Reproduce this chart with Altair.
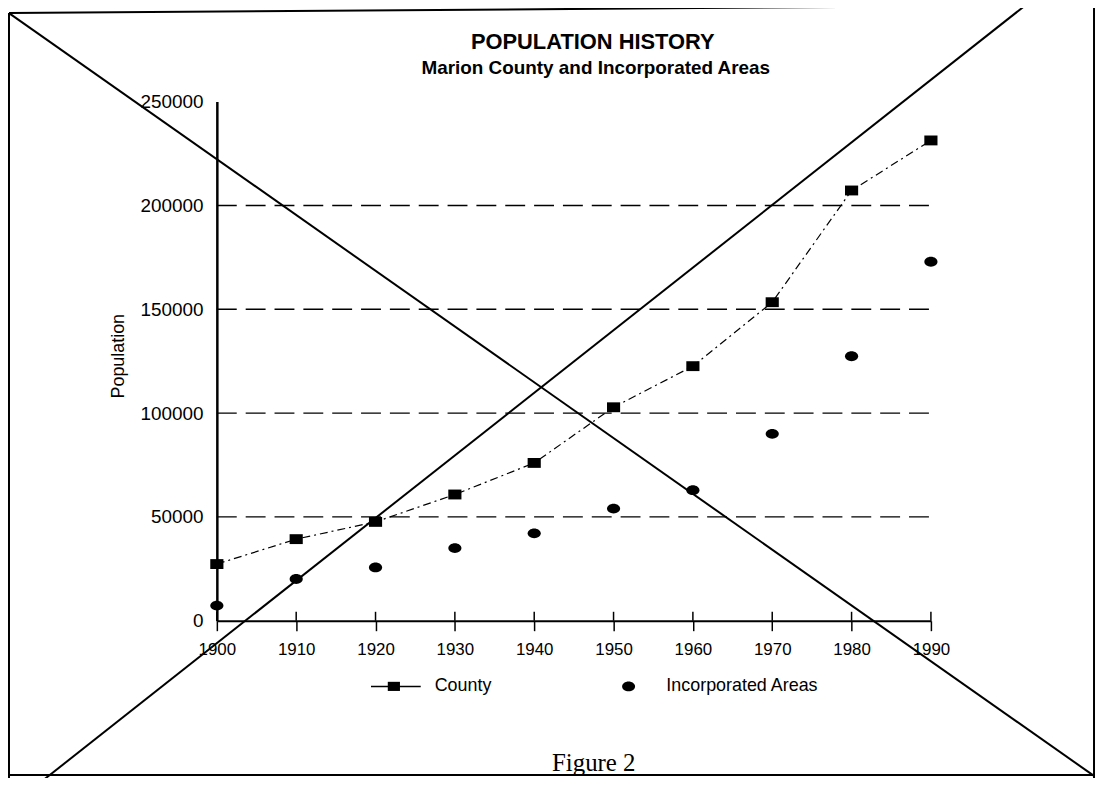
import altair as alt
import pandas as pd

# ---- data ----
years = [1900, 1910, 1920, 1930, 1940, 1950, 1960, 1970, 1980, 1990]
county = [27300, 39300, 47600, 60800, 76000, 102800, 122600, 153400, 207200, 231300]
incorporated = [7300, 20100, 25700, 35000, 42100, 54000, 62900, 90000, 127400, 172900]
series_names = ["County", "Incorporated Areas"]
y_ticks = [0, 50000, 100000, 150000, 200000, 250000]
grid_values = [50000, 100000, 150000, 200000]

W, H = 718, 522
SANS = "Liberation Sans"
SERIF = "Liberation Serif"

SQUARE = "M-1,-0.75H1V0.75H-1Z"
ELLIPSE = "M-1,0A1,0.75 0 1 1 1,0A1,0.75 0 1 1 -1,0Z"

df = pd.DataFrame({
    "year": years * 2,
    "series": [series_names[0]] * len(years) + [series_names[1]] * len(years),
    "population": county + incorporated,
})
grid_df = pd.DataFrame({"population": grid_values})
tick_df = pd.DataFrame({"year": years})

x_enc = alt.X(
    "year:Q",
    scale=alt.Scale(domain=[1900, 1990], nice=False, zero=False),
    axis=alt.Axis(
        values=years, format="d", title=None, grid=False, labelFlush=False,
        domainColor="black", domainWidth=2, tickColor="black", tickWidth=1.5,
        tickSize=10, labelFont=SANS, labelFontSize=17, labelColor="black",
        labelPadding=11,
    ),
)
y_enc = alt.Y(
    "population:Q",
    scale=alt.Scale(domain=[0, 250000], nice=False),
    axis=alt.Axis(
        values=y_ticks, format="d", title=None, grid=False, ticks=False,
        tickSize=0, domainColor="black", domainWidth=2.5, labelFont=SANS,
        labelFontSize=19, labelColor="black", labelPadding=14,
    ),
)

base = alt.Chart(df)

grid = alt.Chart(grid_df).mark_rule(
    color="black", strokeWidth=1.4, strokeDash=[20, 9]
).encode(y=y_enc, x=alt.value(0), x2=alt.value(W + 4))

inner_ticks = alt.Chart(tick_df).mark_rule(color="black", strokeWidth=1.5).encode(
    x=x_enc, y=alt.value(H - 9), y2=alt.value(H)
)

county_line = base.transform_filter(
    alt.datum.series == series_names[0]
).mark_line(color="black", strokeWidth=1.2, strokeDash=[8, 4, 2, 4]).encode(
    x=x_enc, y=y_enc
)

points = base.mark_point(filled=True, color="black", opacity=1, size=175).encode(
    x=x_enc,
    y=y_enc,
    shape=alt.Shape(
        "series:N",
        scale=alt.Scale(domain=series_names, range=[SQUARE, ELLIPSE]),
        legend=None,
    ),
)

deco = alt.Data(values=[{"k": 1}])


def seg(x1, y1, x2, y2, w=2.0):
    return alt.Chart(deco).mark_rule(color="black", strokeWidth=w).encode(
        x=alt.value(x1), y=alt.value(y1), x2=alt.value(x2), y2=alt.value(y2)
    )


def label(text, x, y, size, font=SANS, weight="normal", align="center", angle=0):
    return alt.Chart(deco).mark_text(
        text=text, font=font, fontSize=size, fontWeight=weight, align=align,
        baseline="middle", color="black", angle=angle,
    ).encode(x=alt.value(x), y=alt.value(y))


def label_base(text, x, y, size, weight="normal"):
    return alt.Chart(deco).mark_text(
        text=text, font=SANS, fontSize=size, fontWeight=weight, align="center",
        baseline="alphabetic", color="black",
    ).encode(x=alt.value(x), y=alt.value(y))


# page frame and the crossing-out lines of the scanned figure
frame = [
    seg(-209, -89, 882, -97),
    seg(-209, -89, -209, 680),
    seg(882, -97, 882, 680),
    seg(-209, 677, 882, 677),
    seg(-209, -89, 882, 678),
    seg(-178, 685, 817, -100),
]

texts = [
    label_base("POPULATION HISTORY", 378, -53, 22, "bold"),
    label_base("Marion County and Incorporated Areas", 381, -28, 19, "bold"),
    label("Population", -98, 256, 18, angle=270),
    label("County", 219, 588, 18, align="left"),
    label("Incorporated Areas", 452, 588, 18, align="left"),
    label("Figure 2", 379, 665, 25, font=SERIF),
]

legend_marks = [
    seg(155, 588, 205, 588, 1.5),
    alt.Chart(deco).mark_point(filled=True, color="black", opacity=1, size=150, shape=SQUARE).encode(
        x=alt.value(178), y=alt.value(588)
    ),
    alt.Chart(deco).mark_point(filled=True, color="black", opacity=1, size=169, shape=ELLIPSE).encode(
        x=alt.value(414), y=alt.value(588)
    ),
]

chart = alt.layer(
    grid, inner_ticks, county_line, points, *frame, *texts, *legend_marks
).properties(
    width=W,
    height=H,
    autosize=alt.AutoSizeParams(type="none"),
    padding={"left": 210, "top": 92, "right": 166, "bottom": 156},
    background="white",
).configure_view(stroke=None)

chart.save("out.html", embed_options={"renderer": "svg", "actions": False})
